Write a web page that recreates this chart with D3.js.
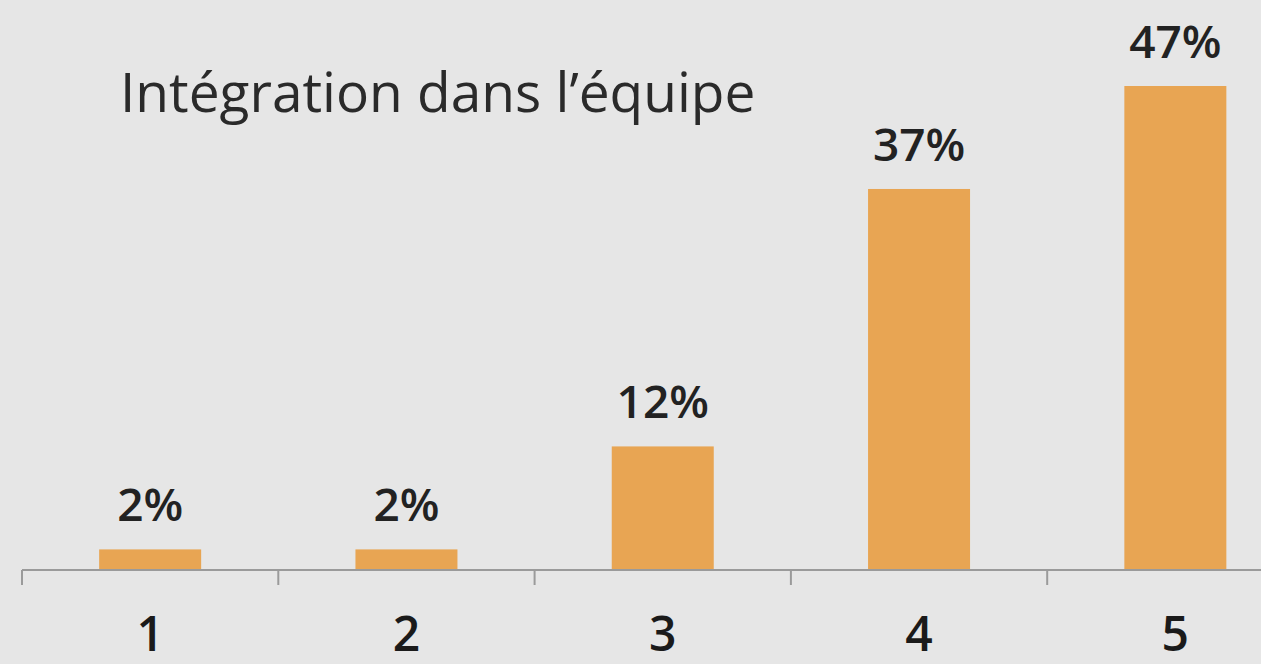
<!DOCTYPE html>
<html><head><meta charset="utf-8">
<script src="https://cdn.jsdelivr.net/npm/d3@7"></script>
<style>html,body{margin:0;padding:0;background:#e6e6e6;}svg{display:block;}</style>
</head><body>
<script>
const categories = ["1","2","3","4","5"];
const values = [2, 2, 12, 37, 47];
const valueLabels = ["2%","2%","12%","37%","47%"];
const title = "Intégration dans l’équipe";

const W = 1261, H = 664;
const svg = d3.select("body").append("svg").attr("width", W).attr("height", H);
svg.append("rect").attr("width", W).attr("height", H).attr("fill", "#e6e6e6");

const x = d3.scaleBand().domain(categories).range([22, 22 + 5 * 256.3]).paddingInner(0).paddingOuter(0);
const y = d3.scaleLinear().domain([0, 47]).range([570, 86]);
const bw = 102;

svg.selectAll("rect.bar").data(values).enter().append("rect")
  .attr("class", "bar")
  .attr("x", (d, i) => x(categories[i]) + x.bandwidth() / 2 - bw / 2)
  .attr("y", d => y(d))
  .attr("width", bw)
  .attr("height", d => y(0) - y(d))
  .attr("fill", "#e8a553");

// axis
const axisG = svg.append("g").attr("transform", "translate(0,570)");
axisG.append("line").attr("x1", 22).attr("x2", W).attr("y1", 0).attr("y2", 0)
  .attr("stroke", "#9a9a9a").attr("stroke-width", 2);
const tickPos = categories.map(c => x(c)).concat([x(categories[4]) + x.bandwidth()]);
axisG.selectAll("line.tick").data(tickPos).enter().append("line")
  .attr("x1", d => d).attr("x2", d => d).attr("y1", 0).attr("y2", 15)
  .attr("stroke", "#9a9a9a").attr("stroke-width", 2);

svg.selectAll("text.cat").data(categories).enter().append("text")
  .attr("x", d => x(d) + x.bandwidth() / 2)
  .attr("y", 651)
  .attr("text-anchor", "middle")
  .attr("font-family", "Open Sans")
  .attr("font-size", 48).attr("font-weight", 600)
  .attr("fill", "#1a1a1a")
  .text(d => d);

svg.selectAll("text.val").data(values).enter().append("text")
  .attr("x", (d, i) => x(categories[i]) + x.bandwidth() / 2)
  .attr("y", d => y(d) - 28)
  .attr("text-anchor", "middle")
  .attr("font-family", "Open Sans")
  .attr("font-size", 46).attr("font-weight", 600)
  .attr("fill", "#222")
  .text((d, i) => valueLabels[i]);

svg.append("text").attr("x", 120).attr("y", 112)
  .attr("font-family", "Open Sans").attr("font-size", 55).attr("font-weight", 400)
  .attr("fill", "#2a2a2a").text(title);
</script>
</body></html>
